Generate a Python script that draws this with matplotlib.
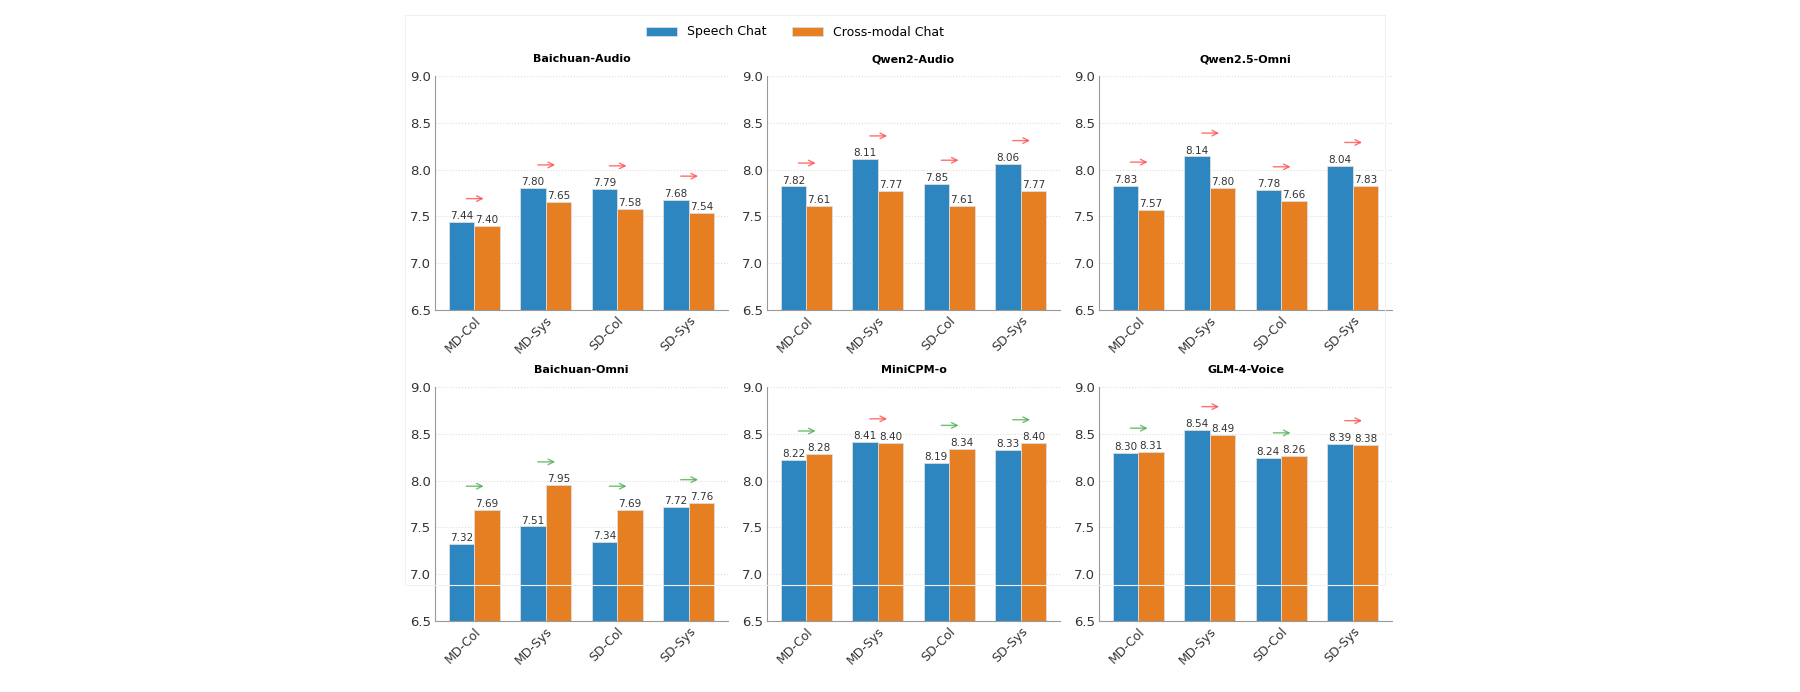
import matplotlib
matplotlib.use("Agg")
import matplotlib.pyplot as plt
import numpy as np

categories = ["MD-Col", "MD-Sys", "SD-Col", "SD-Sys"]
models = ["Baichuan-Audio", "Qwen2-Audio", "Qwen2.5-Omni", "Baichuan-Omni", "MiniCPM-o", "GLM-4-Voice"]
speech = [
    [7.44, 7.80, 7.79, 7.68],
    [7.82, 8.11, 7.85, 8.06],
    [7.83, 8.14, 7.78, 8.04],
    [7.32, 7.51, 7.34, 7.72],
    [8.22, 8.41, 8.19, 8.33],
    [8.30, 8.54, 8.24, 8.39],
]
cross = [
    [7.40, 7.65, 7.58, 7.54],
    [7.61, 7.77, 7.61, 7.77],
    [7.57, 7.80, 7.66, 7.83],
    [7.69, 7.95, 7.69, 7.76],
    [8.28, 8.40, 8.34, 8.40],
    [8.31, 8.49, 8.26, 8.38],
]
yticks = [6.5, 7.0, 7.5, 8.0, 8.5, 9.0]

W, H = 1800, 692
fig = plt.figure(figsize=(18, 6.92), dpi=100)
fig.patches.append(plt.Rectangle((405 / W, 1 - 585 / H), 980 / W, 570 / H,
                                 transform=fig.transFigure, fill=False,
                                 edgecolor="#f0f0f0", lw=0.8))
lefts = [435, 767, 1099]
rows = [(76, 310), (387, 621)]
blue, orange = "#2E86C1", "#E67E22"
bw = 0.36
x = np.arange(len(categories))
for i, m in enumerate(models):
    r, c = divmod(i, 3)
    top, bot = rows[r]
    ax = fig.add_axes([lefts[c] / W, 1 - bot / H, 293 / W, (bot - top) / H])
    s, cr = speech[i], cross[i]
    b1 = ax.bar(x - bw / 2, s, bw, color=blue, edgecolor="#dddddd", lw=0.6, label="Speech Chat")
    b2 = ax.bar(x + bw / 2, cr, bw, color=orange, edgecolor="#dddddd", lw=0.6, label="Cross-modal Chat")
    for xi, v in zip(x - bw / 2, s):
        ax.text(xi, v + 0.01, f"{v:.2f}", ha="center", va="bottom", fontsize=7.5, color="#333333")
    for xi, v in zip(x + bw / 2, cr):
        ax.text(xi, v + 0.01, f"{v:.2f}", ha="center", va="bottom", fontsize=7.5, color="#333333")
    for xi, a, b in zip(x, s, cr):
        col = "#ff4d4d" if a > b else "#4caf50"
        yv = max(a, b) + 0.25
        ax.annotate("", xy=(xi + 0.17, yv), xytext=(xi - 0.15, yv),
                    arrowprops=dict(arrowstyle="->", color=col, lw=1.0, alpha=0.8))
    ax.set_ylim(6.5, 9.0)
    ax.set_xlim(-0.55, 3.55)
    ax.set_yticks(yticks)
    ax.set_yticklabels([f"{t:.1f}" for t in yticks], fontsize=9.5, color="#333333")
    ax.set_xticks(x)
    ax.set_xticklabels(categories, rotation=45, ha="right", rotation_mode="anchor", fontsize=9, color="#333333")
    ax.grid(axis="y", ls=":", color="#dddddd", lw=0.8)
    ax.set_axisbelow(True)
    ax.spines["top"].set_visible(False)
    ax.spines["right"].set_visible(False)
    for sp in ("left", "bottom"):
        ax.spines[sp].set_color("#999999")
    ax.tick_params(length=0, pad=3)
    ax.set_title(m, fontsize=8, fontweight="bold", pad=10)
    if i == 0:
        handles = [b1, b2]

fig.legend(handles, ["Speech Chat", "Cross-modal Chat"], loc="center",
           bbox_to_anchor=(795 / W, 1 - 32 / H), ncol=2, frameon=False, fontsize=9,
           handlelength=2.5, columnspacing=2.0)
fig.savefig("out.png", dpi=100, facecolor="white")
